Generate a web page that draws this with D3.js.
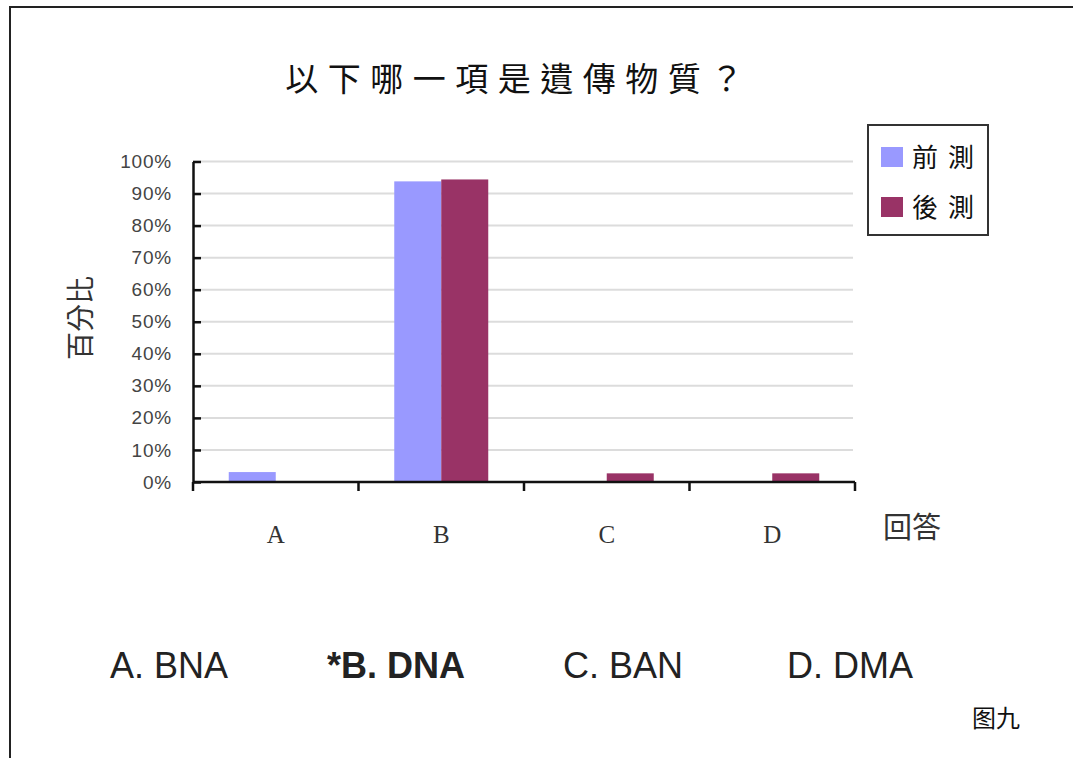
<!DOCTYPE html>
<html>
<head>
<meta charset="utf-8">
<script src="https://cdn.jsdelivr.net/npm/d3@7"></script>
<style>
  html, body { margin: 0; padding: 0; background: #ffffff; }
  svg { display: block; }
</style>
</head>
<body>
<svg id="chart" width="1073" height="758"></svg>
<script>
// Answer choices on the x axis
const categories = ["A", "B", "C", "D"];
// Series: pre-test and post-test share of answers (%)
const seriesNames = ["前測", "後測"];
const preTest  = [3.1, 93.8, 0, 0];
const postTest = [0, 94.4, 2.7, 2.7];
// Y-axis tick values (%)
const yTicks = [0, 10, 20, 30, 40, 50, 60, 70, 80, 90, 100];
// Answer option texts printed under the chart
const optionTexts = ["A. BNA", "*B. DNA", "C. BAN", "D. DMA"];
const optionBold  = [false, true, false, false];

const colors = ["#9999ff", "#993366"];
const rows = categories.map((c, i) => ({ cat: c, values: [preTest[i], postTest[i]] }));

const svg = d3.select("#chart");

// Page frame
svg.append("line").attr("x1", 10).attr("x2", 1073).attr("y1", 7).attr("y2", 7)
  .attr("stroke", "#222").attr("stroke-width", 2);
svg.append("line").attr("x1", 10).attr("x2", 10).attr("y1", 6).attr("y2", 758)
  .attr("stroke", "#222").attr("stroke-width", 2);

// Plot area
const plot = { left: 193, right: 855, top: 161.5, bottom: 482 };

const x = d3.scaleBand().domain(categories).range([plot.left, plot.right]).paddingInner(0).paddingOuter(0);
const groupWidth = 94;
const xSub = d3.scaleBand().domain(d3.range(seriesNames.length)).range([0, groupWidth]).padding(0);
const y = d3.scaleLinear().domain([0, 100]).range([plot.bottom, plot.top]);

// Title
svg.append("text")
  .attr("x", 519).attr("y", 91)
  .attr("text-anchor", "middle")
  .style("font-family", "'Noto Sans CJK TC', 'Noto Sans CJK SC', sans-serif")
  .style("font-size", "33px")
  .style("font-weight", "400")
  .style("letter-spacing", "9.5px")
  .attr("fill", "#111")
  .text("以下哪一項是遺傳物質？");

// Horizontal gridlines
svg.append("g").selectAll("line")
  .data(yTicks.filter(t => t > 0))
  .join("line")
  .attr("x1", plot.left).attr("x2", plot.right - 2)
  .attr("y1", d => y(d)).attr("y2", d => y(d))
  .attr("stroke", "#dcdcdc").attr("stroke-width", 2);

// Bars
const groups = svg.append("g").selectAll("g")
  .data(rows)
  .join("g")
  .attr("transform", d => `translate(${x(d.cat) + (x.bandwidth() - groupWidth) / 2},0)`);

groups.selectAll("rect")
  .data(d => d.values.map((v, i) => ({ v, i })))
  .join("rect")
  .attr("x", d => xSub(d.i))
  .attr("width", xSub.bandwidth())
  .attr("y", d => y(d.v))
  .attr("height", d => y(0) - y(d.v))
  .attr("fill", d => colors[d.i]);

// Y axis with inward ticks
const yAxis = d3.axisLeft(y)
  .tickValues(yTicks)
  .tickFormat(d => d + "%")
  .tickSizeInner(-8)
  .tickSizeOuter(0)
  .tickPadding(21);

const yg = svg.append("g").attr("transform", `translate(${plot.left},0)`).call(yAxis);
yg.select(".domain").attr("stroke", "#111").attr("stroke-width", 2.5);
yg.selectAll(".tick line").attr("stroke", "#111").attr("stroke-width", 2.5);
yg.selectAll(".tick text")
  .style("font-family", "'Liberation Sans', Arial, sans-serif")
  .style("font-size", "19px")
  .style("letter-spacing", "0.8px")
  .attr("fill", "#444");

// X axis line with ticks at category boundaries
const xEdges = categories.map(c => x(c)).concat([x(categories[categories.length - 1]) + x.bandwidth()]);
const xAxisG = svg.append("g");
xAxisG.append("line")
  .attr("x1", plot.left).attr("x2", plot.right)
  .attr("y1", y(0)).attr("y2", y(0))
  .attr("stroke", "#111").attr("stroke-width", 2.5);
xAxisG.selectAll("line.edge")
  .data(xEdges)
  .join("line")
  .attr("class", "edge")
  .attr("x1", d => d).attr("x2", d => d)
  .attr("y1", y(0)).attr("y2", y(0) + 9)
  .attr("stroke", "#111").attr("stroke-width", 2.5);

// Category labels
xAxisG.selectAll("text.cat")
  .data(categories)
  .join("text")
  .attr("class", "cat")
  .attr("x", d => x(d) + x.bandwidth() / 2)
  .attr("y", 543)
  .attr("text-anchor", "middle")
  .style("font-family", "'Liberation Serif', 'Times New Roman', serif")
  .style("font-size", "25px")
  .attr("fill", "#333")
  .text(d => d);

// Axis titles
svg.append("text")
  .attr("transform", "translate(91,318) rotate(-90)")
  .attr("text-anchor", "middle")
  .style("font-family", "'Noto Sans CJK TC', sans-serif")
  .style("font-size", "28px")
  .attr("fill", "#333")
  .text("百分比");

svg.append("text")
  .attr("x", 912).attr("y", 538)
  .attr("text-anchor", "middle")
  .style("font-family", "'Noto Sans CJK TC', sans-serif")
  .style("font-size", "29px")
  .attr("fill", "#333")
  .text("回答");

// Legend
const legend = svg.append("g").attr("transform", "translate(868,125)");
legend.append("rect")
  .attr("width", 120).attr("height", 110)
  .attr("fill", "#fff").attr("stroke", "#333").attr("stroke-width", 2);
const li = legend.selectAll("g.item")
  .data(seriesNames)
  .join("g")
  .attr("class", "item")
  .attr("transform", (d, i) => `translate(13,${22 + i * 50})`);
li.append("rect")
  .attr("width", 22).attr("height", 20)
  .attr("fill", (d, i) => colors[i]);
li.append("text")
  .attr("x", 31).attr("y", 20)
  .style("font-family", "'Noto Sans CJK TC', sans-serif")
  .style("font-size", "26px")
  .style("font-weight", "400")
  .style("letter-spacing", "10px")
  .attr("fill", "#111")
  .text(d => d);

// Answer option texts below the chart
const xOpt = d3.scalePoint().domain(d3.range(optionTexts.length)).range([169, 850]);
svg.append("g").selectAll("text")
  .data(optionTexts)
  .join("text")
  .attr("x", (d, i) => xOpt(i))
  .attr("y", 678)
  .attr("text-anchor", "middle")
  .style("font-family", "'Liberation Sans', Arial, sans-serif")
  .style("font-size", "36px")
  .style("font-weight", (d, i) => optionBold[i] ? "bold" : "normal")
  .attr("fill", "#222")
  .text(d => d);

// Figure caption
svg.append("text")
  .attr("x", 996).attr("y", 727)
  .attr("text-anchor", "middle")
  .style("font-family", "'Noto Sans CJK SC', sans-serif")
  .style("font-size", "24px")
  .attr("fill", "#111")
  .text("图九");
</script>
</body>
</html>
